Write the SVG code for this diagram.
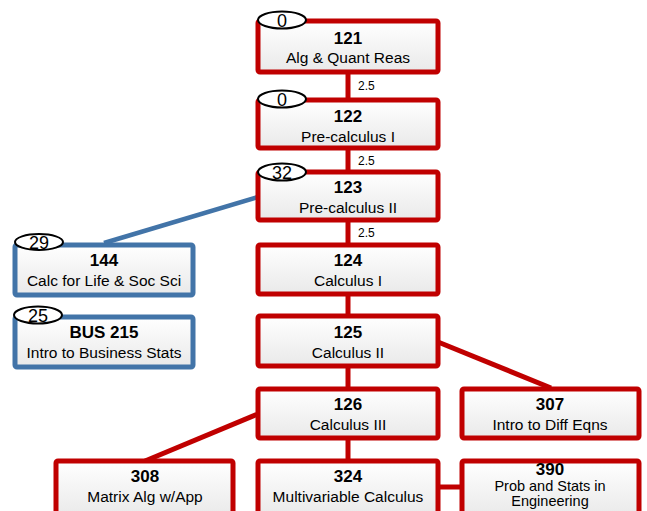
<svg xmlns="http://www.w3.org/2000/svg" width="647" height="511" viewBox="0 0 647 511">
<defs>
<linearGradient id="g" x1="0" y1="0" x2="0" y2="1">
<stop offset="0" stop-color="#ffffff"/>
<stop offset="1" stop-color="#e9e9e9"/>
</linearGradient>
<style>
.r{fill:url(#g);stroke:#C00000;stroke-width:5}
.b{fill:url(#g);stroke:#4274A8;stroke-width:5}
.lr{stroke:#C00000;stroke-width:5;fill:none}
.lb{stroke:#4274A8;stroke-width:4.5;fill:none}
.n{font-family:"Liberation Sans",Arial,sans-serif;font-weight:bold;font-size:17px;text-anchor:middle;fill:#000}
.t{font-family:"Liberation Sans",Arial,sans-serif;font-size:15.5px;text-anchor:middle;fill:#000}
.s{font-family:"Liberation Sans",Arial,sans-serif;font-size:14.5px;text-anchor:middle;fill:#000}
.o{fill:#fff;stroke:#000;stroke-width:2}
.ot{font-family:"Liberation Sans",Arial,sans-serif;font-size:18px;text-anchor:middle;fill:#000}
.e{font-family:"Liberation Sans",Arial,sans-serif;font-size:12px;fill:#000}
</style>
</defs>
<rect width="647" height="511" fill="#fff"/>
<g id="connectors">
<line class="lr" x1="348" y1="72" x2="348" y2="99"/>
<line class="lr" x1="348" y1="149" x2="348" y2="171"/>
<line class="lr" x1="348" y1="221" x2="348" y2="244"/>
<line class="lr" x1="348" y1="295" x2="348" y2="315"/>
<line class="lr" x1="348" y1="367" x2="348" y2="388"/>
<line class="lr" x1="348" y1="439" x2="348" y2="460"/>
<line class="lr" x1="438" y1="342" x2="551" y2="388"/>
<line class="lr" x1="258" y1="414" x2="145" y2="461"/>
<line class="lr" x1="438" y1="487" x2="461" y2="487"/>
<line class="lb" x1="258" y1="197" x2="104" y2="243"/>
<text class="e" x="358" y="90">2.5</text>
<text class="e" x="358" y="165">2.5</text>
<text class="e" x="358" y="237">2.5</text>
</g>
<g id="n121">
<rect class="r" x="258" y="21" width="180" height="51" rx="2"/>
<text class="n" x="348" y="44">121</text>
<text class="t" x="348" y="63">Alg &amp; Quant Reas</text>
<ellipse class="o" cx="282" cy="20" rx="24" ry="8.5"/>
<text class="ot" x="282" y="27">0</text>
</g>
<g id="n122">
<rect class="r" x="258" y="100" width="180" height="48" rx="2"/>
<text class="n" x="348" y="122">122</text>
<text class="t" x="348" y="142">Pre-calculus I</text>
<ellipse class="o" cx="282" cy="99" rx="24" ry="8.5"/>
<text class="ot" x="282" y="106">0</text>
</g>
<g id="n123">
<rect class="r" x="258" y="172" width="180" height="48" rx="2"/>
<text class="n" x="348" y="193">123</text>
<text class="t" x="348" y="213">Pre-calculus II</text>
<ellipse class="o" cx="282" cy="172" rx="24" ry="8.5"/>
<text class="ot" x="282" y="179">32</text>
</g>
<g id="n124">
<rect class="r" x="258" y="245" width="180" height="49" rx="2"/>
<text class="n" x="348" y="266">124</text>
<text class="t" x="348" y="286">Calculus I</text>
</g>
<g id="n125">
<rect class="r" x="258" y="316" width="180" height="50" rx="2"/>
<text class="n" x="348" y="338">125</text>
<text class="t" x="348" y="358">Calculus II</text>
</g>
<g id="n126">
<rect class="r" x="258" y="389" width="180" height="49" rx="2"/>
<text class="n" x="348" y="410">126</text>
<text class="t" x="348" y="430">Calculus III</text>
</g>
<g id="n307">
<rect class="r" x="462" y="389" width="177" height="49" rx="2"/>
<text class="n" x="550" y="410">307</text>
<text class="t" x="550" y="430">Intro to Diff Eqns</text>
</g>
<g id="n308">
<rect class="r" x="56" y="461" width="177" height="56" rx="2"/>
<text class="n" x="145" y="482">308</text>
<text class="t" x="145" y="502">Matrix Alg w/App</text>
</g>
<g id="n324">
<rect class="r" x="258" y="461" width="180" height="56" rx="2"/>
<text class="n" x="348" y="482">324</text>
<text class="t" x="348" y="502">Multivariable Calculus</text>
</g>
<g id="n390">
<rect class="r" x="462" y="461" width="177" height="56" rx="2"/>
<text class="n" x="550" y="475">390</text>
<text class="s" x="550" y="491">Prob and Stats in</text>
<text class="s" x="550" y="506">Engineering</text>
</g>
<g id="n144">
<rect class="b" x="15" y="245" width="178" height="50" rx="2"/>
<text class="n" x="104" y="266">144</text>
<text class="t" x="104" y="286">Calc for Life &amp; Soc Sci</text>
<ellipse class="o" cx="39" cy="242" rx="24" ry="8"/>
<text class="ot" x="39" y="249">29</text>
</g>
<g id="nBUS215">
<rect class="b" x="15" y="317" width="178" height="50" rx="2"/>
<text class="n" x="104" y="338">BUS 215</text>
<text class="t" x="104" y="358">Intro to Business Stats</text>
<ellipse class="o" cx="38" cy="315" rx="24" ry="8.5"/>
<text class="ot" x="38" y="322">25</text>
</g>
</svg>
